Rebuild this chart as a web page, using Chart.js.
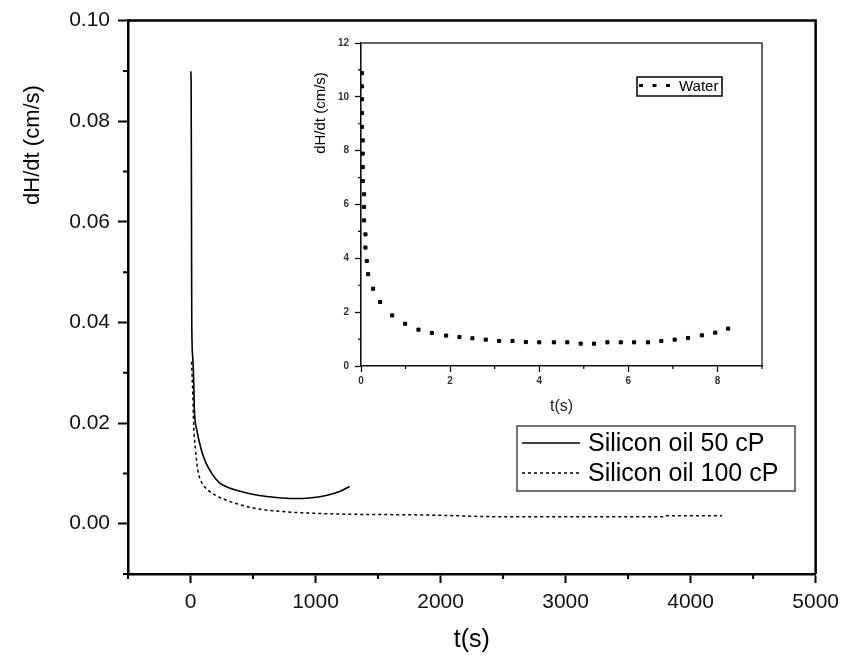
<!DOCTYPE html>
<html>
<head>
<meta charset="utf-8">
<script src="https://cdn.jsdelivr.net/npm/chart.js@4.4.1/dist/chart.umd.min.js"></script>
<style>
  html, body { margin: 0; padding: 0; background: #fff; }
  #wrap { position: relative; width: 846px; height: 664px; }
  #main-chart { position: absolute; left: 0; top: 0; }
  #inset-chart { position: absolute; left: 300px; top: 30px; }
</style>
</head>
<body>
<div id="wrap">
  <canvas id="main-chart" width="846" height="664"></canvas>
  <canvas id="inset-chart" width="470" height="400"></canvas>
</div>
<script>
// main plot: silicon oils, t in s, dH/dt in cm/s
const oil50Time = [2, 5, 8, 10, 18, 26, 31, 50, 86, 125, 178, 232, 312, 418, 551, 685, 818, 951, 1085, 1192, 1272];
const oil50Rate = [0.0899, 0.0875, 0.06, 0.04, 0.033, 0.0279, 0.0226, 0.0187, 0.0147, 0.012, 0.0097, 0.0081, 0.0071, 0.0063, 0.0056, 0.0052, 0.005, 0.0051, 0.0056, 0.0064, 0.0074];

const oil100Time = [8, 18, 26, 40, 58, 86, 139, 219, 365, 551, 738, 951, 1217, 1617, 1937, 2443, 3000, 3780, 3790, 4250];
const oil100Rate = [0.0322, 0.0259, 0.0193, 0.0147, 0.0107, 0.0084, 0.0067, 0.0054, 0.004, 0.0029, 0.0024, 0.0021, 0.0019, 0.0018, 0.0017, 0.0014, 0.0014, 0.0014, 0.0016, 0.0016];

// inset: water
const waterTime = [0.02, 0.02, 0.02, 0.02, 0.02, 0.04, 0.04, 0.04, 0.04, 0.07, 0.07, 0.07, 0.1, 0.1, 0.13, 0.16, 0.27, 0.43, 0.7,
  0.99, 1.29, 1.59, 1.91, 2.21, 2.5, 2.8, 3.1, 3.4, 3.7, 4.0, 4.33, 4.63, 4.93, 5.23, 5.53, 5.83, 6.13, 6.44, 6.74, 7.04, 7.34, 7.65, 7.95, 8.24];
const waterRate = [10.88, 10.39, 9.91, 9.40, 8.88, 8.38, 7.89, 7.39, 6.87, 6.38, 5.91, 5.41, 4.89, 4.40, 3.90, 3.41, 2.87, 2.38, 1.88,
  1.57, 1.35, 1.23, 1.13, 1.08, 1.03, 0.98, 0.93, 0.93, 0.89, 0.88, 0.88, 0.88, 0.83, 0.83, 0.88, 0.88, 0.88, 0.88, 0.93, 0.98, 1.04, 1.14, 1.24, 1.39];

const mainXTicks = [0, 1000, 2000, 3000, 4000, 5000];
const mainXMinor = [-500, 500, 1500, 2500, 3500, 4500];
const mainYTicks = [0, 0.02, 0.04, 0.06, 0.08, 0.10];
const mainYMinor = [-0.01, 0.01, 0.03, 0.05, 0.07, 0.09];

const insetXTicks = [0, 2, 4, 6, 8];
const insetXMinor = [1, 3, 5, 7, 9];
const insetYTicks = [0, 2, 4, 6, 8, 10, 12];
const insetYMinor = [1, 3, 5, 7, 9, 11];

const FONT = "'Liberation Sans', Arial, sans-serif";
Chart.defaults.font.family = FONT;
Chart.defaults.color = "#111";

const toPoints = (xs, ys) => xs.map((x, i) => ({ x: x, y: ys[i] }));

// top/right frame, minor ticks, rotated y title and the boxed legend
const figurePlugin = {
  id: "figure",
  afterDraw(chart, args, opts) {
    const { ctx, chartArea: a, scales } = chart;
    ctx.save();

    ctx.strokeStyle = opts.frameColor;
    ctx.lineWidth = opts.frameWidth;
    ctx.beginPath();
    ctx.moveTo(a.left, a.top);
    ctx.lineTo(a.right, a.top);
    ctx.lineTo(a.right, a.bottom);
    ctx.stroke();

    ctx.strokeStyle = "#000";
    ctx.lineWidth = opts.minorWidth;
    ctx.beginPath();
    opts.minorX.forEach(v => {
      const px = scales.x.getPixelForValue(v);
      ctx.moveTo(px, a.bottom);
      ctx.lineTo(px, a.bottom + opts.minorLen);
    });
    opts.minorY.forEach(v => {
      const py = scales.y.getPixelForValue(v);
      ctx.moveTo(a.left, py);
      ctx.lineTo(a.left - opts.minorLen, py);
    });
    ctx.stroke();

    // y title
    const t = opts.yTitle;
    ctx.save();
    ctx.translate(t.x, t.y);
    ctx.rotate(-Math.PI / 2);
    ctx.fillStyle = "#000";
    ctx.font = t.size + "px " + FONT;
    ctx.textAlign = "center";
    ctx.textBaseline = "middle";
    ctx.fillText(t.text, 0, 0);
    ctx.restore();

    // legend
    const lg = opts.legend;
    ctx.fillStyle = "#fff";
    ctx.fillRect(lg.x, lg.y, lg.w, lg.h);
    ctx.strokeStyle = lg.borderColor;
    ctx.lineWidth = lg.borderWidth;
    ctx.strokeRect(lg.x, lg.y, lg.w, lg.h);
    chart.data.datasets.forEach((ds, i) => {
      const cy = lg.rows[i];
      ctx.strokeStyle = "#000";
      ctx.lineWidth = ds.legendWidth || ds.borderWidth;
      ctx.setLineDash(ds.legendDash || ds.borderDash || []);
      ctx.beginPath();
      ctx.moveTo(lg.sampleFrom, cy);
      ctx.lineTo(lg.sampleTo, cy);
      ctx.stroke();
      ctx.setLineDash([]);
      ctx.fillStyle = "#000";
      ctx.font = lg.size + "px " + FONT;
      ctx.textAlign = "left";
      ctx.textBaseline = "middle";
      ctx.fillText(ds.label, lg.textX, cy + 1);
    });

    ctx.restore();
  }
};

new Chart(document.getElementById("main-chart"), {
  type: "scatter",
  data: {
    datasets: [
      {
        label: "Silicon oil 50 cP",
        data: toPoints(oil50Time, oil50Rate),
        showLine: true,
        borderColor: "#000",
        borderWidth: 1.6,
        pointRadius: 0,
        cubicInterpolationMode: "monotone"
      },
      {
        label: "Silicon oil 100 cP",
        data: toPoints(oil100Time, oil100Rate),
        showLine: true,
        borderColor: "#000",
        borderWidth: 1.5,
        borderDash: [3, 3],
        pointRadius: 0,
        cubicInterpolationMode: "monotone"
      }
    ]
  },
  options: {
    responsive: false,
    animation: false,
    events: [],
    layout: { padding: { top: 20, right: 28, left: 0, bottom: 0 } },
    plugins: {
      legend: { display: false },
      tooltip: { enabled: false },
      figure: {
        frameColor: "#000",
        frameWidth: 2.5,
        minorWidth: 2,
        minorLen: 5,
        minorX: mainXMinor,
        minorY: mainYMinor,
        yTitle: { text: "dH/dt (cm/s)", x: 33, y: 145, size: 22 },
        legend: {
          x: 517, y: 426, w: 278, h: 65,
          borderColor: "#444", borderWidth: 1.5,
          rows: [443, 473],
          sampleFrom: 522, sampleTo: 580,
          textX: 588, size: 25
        }
      }
    },
    scales: {
      x: {
        type: "linear",
        min: -500,
        max: 5000,
        afterBuildTicks: s => { s.ticks = mainXTicks.map(v => ({ value: v })); },
        afterFit: s => { s.height = 90; },
        border: { color: "#000", width: 2.5 },
        grid: { drawOnChartArea: false, tickLength: 9, tickWidth: 2, tickColor: "#000" },
        ticks: { font: { size: 21 }, padding: 7, maxRotation: 0, callback: v => String(v) },
        title: { display: true, text: "t(s)", color: "#000", font: { size: 25 }, padding: { bottom: 9 } }
      },
      y: {
        type: "linear",
        min: -0.01,
        max: 0.10,
        afterBuildTicks: s => { s.ticks = mainYTicks.map(v => ({ value: v })); },
        afterFit: s => { s.width = 128; },
        border: { color: "#000", width: 2.5 },
        grid: { drawOnChartArea: false, tickLength: 10, tickWidth: 2, tickColor: "#000" },
        ticks: { font: { size: 21 }, padding: 8, callback: v => v.toFixed(2) }
      }
    }
  },
  plugins: [figurePlugin]
});

new Chart(document.getElementById("inset-chart"), {
  type: "scatter",
  data: {
    datasets: [
      {
        label: "Water",
        data: toPoints(waterTime, waterRate),
        showLine: false,
        pointStyle: "rect",
        pointRadius: 2.2,
        pointBorderWidth: 1,
        pointBackgroundColor: "#000",
        pointBorderColor: "#000",
        borderColor: "#000",
        legendWidth: 3,
        legendDash: [4, 9.5]
      }
    ]
  },
  options: {
    responsive: false,
    animation: false,
    events: [],
    layout: { padding: { top: 13, right: 8, left: 0, bottom: 0 } },
    plugins: {
      legend: { display: false },
      tooltip: { enabled: false },
      figure: {
        frameColor: "#333",
        frameWidth: 1.5,
        minorWidth: 1.2,
        minorLen: 3,
        minorX: insetXMinor,
        minorY: insetYMinor,
        yTitle: { text: "dH/dt (cm/s)", x: 21, y: 83, size: 15 },
        legend: {
          x: 337, y: 47, w: 85, h: 19,
          borderColor: "#000", borderWidth: 1.5,
          rows: [55.5],
          sampleFrom: 339, sampleTo: 372,
          textX: 379, size: 15
        }
      }
    },
    scales: {
      x: {
        type: "linear",
        min: 0,
        max: 9,
        afterBuildTicks: s => { s.ticks = insetXTicks.map(v => ({ value: v })); },
        afterFit: s => { s.height = 64; },
        border: { color: "#111", width: 1.6 },
        grid: { drawOnChartArea: false, tickLength: 6, tickWidth: 1.3, tickColor: "#111" },
        ticks: { color: "#333", font: { size: 10, weight: "bold" }, padding: 3, maxRotation: 0, callback: v => String(v) },
        title: { display: true, text: "t(s)", color: "#222", font: { size: 16 }, padding: { bottom: 14 } }
      },
      y: {
        type: "linear",
        min: 0,
        max: 12,
        afterBuildTicks: s => { s.ticks = insetYTicks.map(v => ({ value: v })); },
        afterFit: s => { s.width = 61; },
        border: { color: "#111", width: 1.6 },
        grid: { drawOnChartArea: false, tickLength: 6, tickWidth: 1.3, tickColor: "#111" },
        ticks: { color: "#333", font: { size: 10, weight: "bold" }, padding: 6, callback: v => String(v) }
      }
    }
  },
  plugins: [figurePlugin]
});
</script>
</body>
</html>
